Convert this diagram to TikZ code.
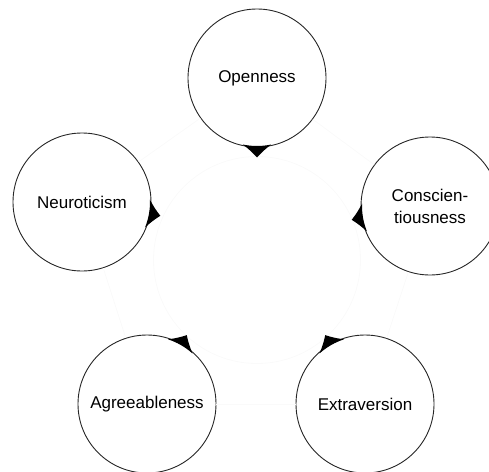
\documentclass[tikz,border=0pt]{standalone}
\usepackage{fontspec}
\setmainfont{Liberation Sans}
\usetikzlibrary{calc}
\begin{document}
\begin{tikzpicture}[x=1pt,y=1pt,
  trait/.style={circle, draw=black!85, line width=0.9pt, fill=white,
    minimum size=138pt, inner sep=0pt, align=center,
    font=\fontsize{17}{22}\selectfont},
  faint/.style={draw=black!2, line width=0.8pt},
  notchfill/.style={fill=black}]
  \useasboundingbox (0,0) rectangle (489,-471);

  % faint guide ring in the middle
  \draw[faint] (257,-260) circle[radius=103.5];

  % the five traits
  \node[trait] (O) at (257,-78) {Openness};
  \node[trait] (C) at (430,-206) {Conscien-\\tiousness};
  \node[trait] (E) at (365,-404) {Extraversion};
  \node[trait] (A) at (147,-404) {Agreeableness};
  \node[trait] (N) at (82,-202) {Neuroticism};

  % faint links between neighbours
  \draw[faint] (O) -- (C);
  \draw[faint] (C) -- (E);
  \draw[faint] (E) -- (A);
  \draw[faint] (A) -- (N);
  \draw[faint] (N) -- (O);

  % small pointers on the rims
  \newcommand{\rimnotch}[2]{%
    \fill[notchfill] ($(#1.center)+(#2-12:68)$)
      to[bend left=5] ($(#1.center)+(#2:79.5)$)
      to[bend left=5] ($(#1.center)+(#2+12:68)$)
      arc[start angle=#2+12, end angle=#2-12, radius=68];}
  \rimnotch{O}{-90}
  \rimnotch{N}{-10}
  \rimnotch{C}{190}
  \rimnotch{A}{60}
  \rimnotch{E}{120}
\end{tikzpicture}
\end{document}
